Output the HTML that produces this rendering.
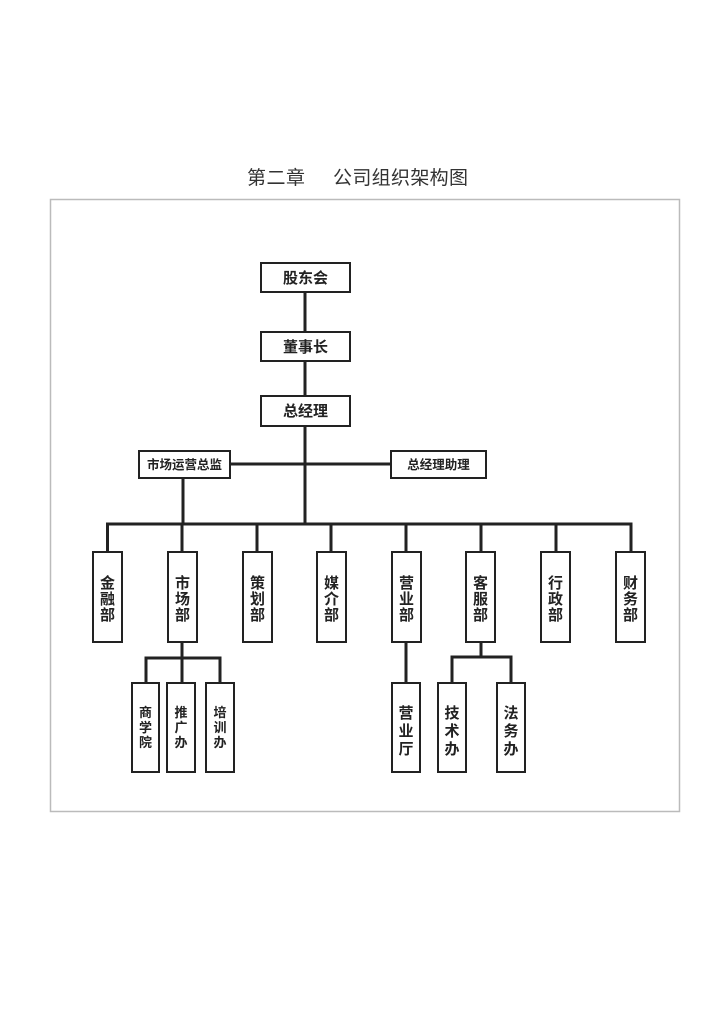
<!DOCTYPE html>
<html><head><meta charset="utf-8"><style>
html,body{margin:0;padding:0;background:#fff;}
body{width:720px;height:1017px;position:relative;overflow:hidden;font-family:"Liberation Sans","Noto Sans CJK SC",sans-serif;}
</style></head><body>
<svg width="720" height="1017" xmlns="http://www.w3.org/2000/svg" style="position:absolute;left:0;top:0">
<g font-family="Noto Sans CJK SC, sans-serif" font-size="19" fill="#333">
<text x="247" y="184" textLength="58">第二章</text>
<text x="333" y="184" textLength="135">公司组织架构图</text>
</g>
<rect x="50.5" y="199.5" width="629" height="612" fill="none" stroke="#bbb" stroke-width="1.5"/>
<g stroke="#222" stroke-width="3" fill="none">
<line x1="305" y1="292" x2="305" y2="524"/>
<line x1="230" y1="464" x2="391" y2="464"/>
<line x1="183" y1="478" x2="183" y2="524"/>
<polyline points="107.5,552 107.5,524 631,524 631,552"/>
<line x1="182" y1="524" x2="182" y2="552"/>
<line x1="257" y1="524" x2="257" y2="552"/>
<line x1="331" y1="524" x2="331" y2="552"/>
<line x1="406" y1="524" x2="406" y2="552"/>
<line x1="481" y1="524" x2="481" y2="552"/>
<line x1="556" y1="524" x2="556" y2="552"/>
<line x1="182" y1="642" x2="182" y2="683"/>
<polyline points="146,683 146,658 220,658 220,683"/>
<line x1="406" y1="642" x2="406" y2="683"/>
<line x1="481" y1="642" x2="481" y2="657"/>
<polyline points="452,683 452,657 511,657 511,683"/>
</g>
<g stroke="#222" stroke-width="2" fill="#fff">
<rect x="261" y="263" width="89" height="29"/>
<rect x="261" y="332" width="89" height="29"/>
<rect x="261" y="396" width="89" height="30"/>
<rect x="139" y="451" width="91" height="27"/>
<rect x="391" y="451" width="95" height="27"/>
<rect x="93" y="552" width="29" height="90"/>
<rect x="168" y="552" width="29" height="90"/>
<rect x="243" y="552" width="29" height="90"/>
<rect x="317" y="552" width="29" height="90"/>
<rect x="392" y="552" width="29" height="90"/>
<rect x="466" y="552" width="29" height="90"/>
<rect x="541" y="552" width="29" height="90"/>
<rect x="616" y="552" width="29" height="90"/>
<rect x="132" y="683" width="27" height="89"/>
<rect x="167" y="683" width="28" height="89"/>
<rect x="206" y="683" width="28" height="89"/>
<rect x="392" y="683" width="28" height="89"/>
<rect x="438" y="683" width="28" height="89"/>
<rect x="497" y="683" width="28" height="89"/>
</g>
<g font-family="Noto Sans CJK SC, sans-serif" font-weight="bold" fill="#222" text-anchor="middle">
<text x="305.5" y="283" font-size="15">股东会</text>
<text x="305.5" y="352" font-size="15">董事长</text>
<text x="305.5" y="416" font-size="15">总经理</text>
<text x="184.5" y="469" font-size="12.5">市场运营总监</text>
<text x="438.5" y="469" font-size="12.5">总经理助理</text>
<g font-size="15">
<text x="107.5" y="588">金</text><text x="107.5" y="604">融</text><text x="107.5" y="620">部</text>
<text x="182.5" y="588">市</text><text x="182.5" y="604">场</text><text x="182.5" y="620">部</text>
<text x="257.5" y="588">策</text><text x="257.5" y="604">划</text><text x="257.5" y="620">部</text>
<text x="331.5" y="588">媒</text><text x="331.5" y="604">介</text><text x="331.5" y="620">部</text>
<text x="406.5" y="588">营</text><text x="406.5" y="604">业</text><text x="406.5" y="620">部</text>
<text x="480.5" y="588">客</text><text x="480.5" y="604">服</text><text x="480.5" y="620">部</text>
<text x="555.5" y="588">行</text><text x="555.5" y="604">政</text><text x="555.5" y="620">部</text>
<text x="630.5" y="588">财</text><text x="630.5" y="604">务</text><text x="630.5" y="620">部</text>
<text x="406" y="718">营</text><text x="406" y="736">业</text><text x="406" y="754">厅</text>
<text x="452" y="718">技</text><text x="452" y="736">术</text><text x="452" y="754">办</text>
<text x="511" y="718">法</text><text x="511" y="736">务</text><text x="511" y="754">办</text>
</g>
<g font-size="13">
<text x="145.5" y="717">商</text><text x="145.5" y="732">学</text><text x="145.5" y="747">院</text>
<text x="181" y="717">推</text><text x="181" y="732">广</text><text x="181" y="747">办</text>
<text x="220" y="717">培</text><text x="220" y="732">训</text><text x="220" y="747">办</text>
</g>
</g>
</svg>
</body></html>
